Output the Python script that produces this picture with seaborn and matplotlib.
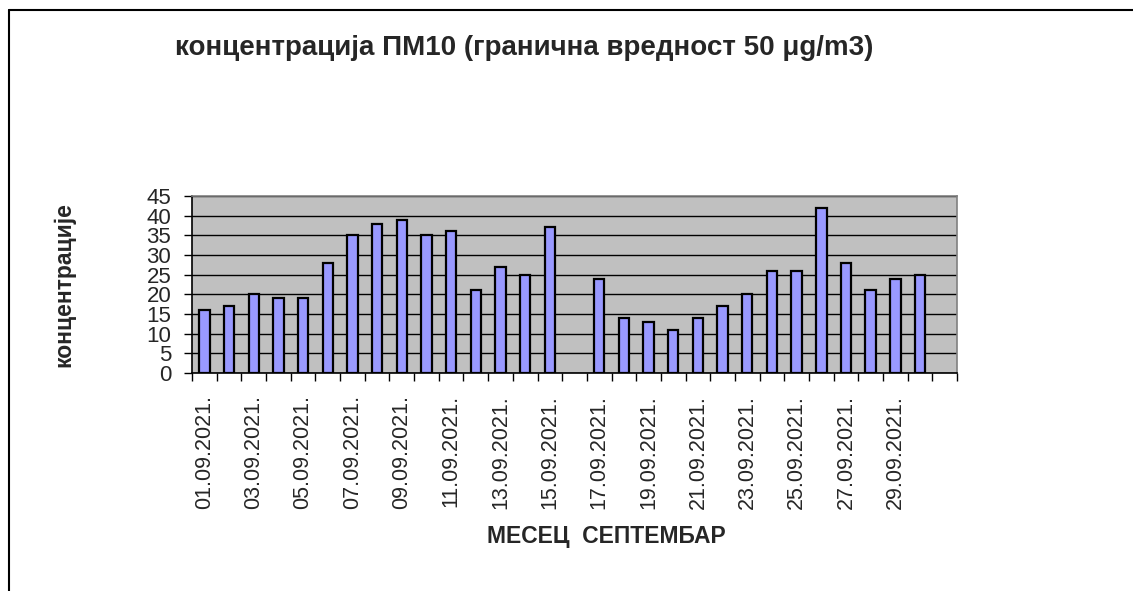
import numpy as np
import pandas as pd
import seaborn as sns
import matplotlib.pyplot as plt
from matplotlib.lines import Line2D

# PM10 daily values for September 2021 (16th and 31st have no data)
days = [f"{d:02d}.09.2021." for d in range(1, 32)]
pm10 = [16, 17, 20, 19, 19, 28, 35, 38, 39, 35, 36, 21, 27, 25, 37, np.nan,
        24, 14, 13, 11, 14, 17, 20, 26, 26, 42, 28, 21, 24, 25, np.nan]
tick_labels = [d if i % 2 == 0 and i < 30 else "" for i, d in enumerate(days)]
y_ticks = list(range(0, 50, 5))

df = pd.DataFrame({"dan": days, "pm10": pm10})

sns.set_style("white")
plt.rcParams['font.family'] = ['Liberation Sans', 'DejaVu Sans']

fig = plt.figure(figsize=(11.33, 5.91), dpi=100)
ax = fig.add_axes([0.1695, 0.3689, 0.6752, 0.2995])
ax.set_facecolor('#c0c0c0')

sns.barplot(data=df, x="dan", y="pm10", order=days, color='#9999ff',
            saturation=1, width=0.42, edgecolor='black', linewidth=1.6, ax=ax)

ax.set_ylim(0, 45)
ax.set_xlim(-0.5, len(days) - 0.5)
ax.set_yticks(y_ticks)
ax.set_yticklabels([str(v) for v in y_ticks], fontsize=16)
ax.yaxis.grid(True, color='black', linewidth=1)
ax.set_axisbelow(True)

# labels centred under every other bar, tick marks between categories
ax.set_xticks(range(len(days)))
ax.set_xticklabels(tick_labels, rotation=90, fontsize=15.5)
ax.tick_params(axis='x', which='major', length=0, pad=16)
ax.set_xticks(np.arange(-0.5, len(days), 1), minor=True)
ax.tick_params(axis='x', which='minor', length=6, width=1, color='black', direction='out')
ax.tick_params(axis='y', length=6, width=1, color='black', direction='out', pad=9,
               left=True)
ax.xaxis.set_tick_params(bottom=True, which='both')

for s in ['top', 'right']:
    ax.spines[s].set_color('#808080')
    ax.spines[s].set_linewidth(1.2)
for s in ['left', 'bottom']:
    ax.spines[s].set_color('black')
    ax.spines[s].set_linewidth(1.2)

ax.set_xlabel("МЕСЕЦ  СЕПТЕМБАР", fontsize=16.5, fontweight='bold')
ax.set_ylabel("концентрације", fontsize=16.5, fontweight='bold')
ax.yaxis.set_label_coords(-0.153, 0.5)
ax.xaxis.set_label_coords(0.541, -0.86)

fig.text(0.4625, 0.918, "концентрација ПМ10 (гранична вредност 50 μg/m3)",
         ha='center', va='center', fontsize=20, fontweight='bold')

# outer chart frame
fig.add_artist(Line2D([0.008, 0.008], [0, 0.983], color='black', linewidth=1.5))
fig.add_artist(Line2D([0.008, 1], [0.983, 0.983], color='black', linewidth=1.5))

fig.savefig('out.png', dpi=100)
